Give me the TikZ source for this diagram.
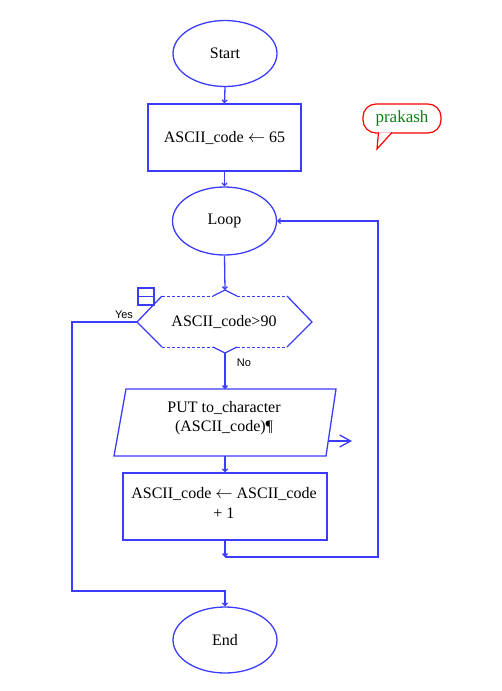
\documentclass[tikz,border=0pt]{standalone}
\usepackage{fontspec}
\setmainfont{Liberation Serif}
\newfontfamily\labelfont{Liberation Sans}
\usetikzlibrary{arrows.meta,shapes.geometric,calc}
\definecolor{fblue}{RGB}{60,60,255}
\definecolor{fgreen}{RGB}{10,128,20}
\begin{document}
\begin{tikzpicture}[x=1pt,y=-1pt,
  line/.style={draw=fblue, line width=1.3pt},
  tip/.style={-{Straight Barb[length=2.5pt,width=5pt]}},
  bigtip/.style={-{Straight Barb[length=11pt,width=12pt]}},
  term/.style={ellipse, draw=fblue, line width=1.3pt, minimum width=104pt, minimum height=66pt, font=\fontsize{16}{18}\selectfont, inner sep=0pt},
  box/.style={rectangle, draw=fblue, line width=1.3pt, font=\fontsize{16}{18}\selectfont, inner sep=0pt},
  txt/.style={font=\fontsize{16}{18.5}\selectfont, align=center, inner sep=0pt},
  lbl/.style={font=\labelfont\fontsize{11}{13}\selectfont, inner sep=0pt},
  dashedge/.style={draw=fblue, line width=1pt, dash pattern=on 3pt off 2pt}]
\useasboundingbox (0,0) rectangle (501,691);

% terminals and boxes
\node[term] (start) at (225,53.5) {Start};
\node[box, minimum width=153pt, minimum height=67pt] (r1) at (224.5,137.5) {ASCII\_code $\leftarrow$ 65};
\node[term, minimum height=68pt] (loop) at (224.5,221) {Loop};

% decision hexagon
\coordinate (dL) at (137,322);
\coordinate (dTL) at (162,296);
\coordinate (dTR) at (287,296);
\coordinate (dR) at (312,322);
\coordinate (dBR) at (287,347);
\coordinate (dBL) at (162,347);
\coordinate (dT) at (225,290);
\coordinate (dB) at (225,353);
\coordinate (dT1) at (213,296);
\coordinate (dT2) at (237,296);
\coordinate (dB1) at (213,347);
\coordinate (dB2) at (237,347);
\draw[line] (dTL) -- (dL) -- (dBL);
\draw[line] (dTR) -- (dR) -- (dBR);
\draw[dashedge] (dTL) -- (dT1) (dT2) -- (dTR) (dBL) -- (dB1) (dB2) -- (dBR);
\draw[line] (dT1) -- (dT) -- (dT2);
\draw[line] (dB1) -- (dB) -- (dB2);
\node[txt] (dec) at (224,322) {ASCII\_code>90};
\draw[line] (138,288) rectangle (154,305);
\draw[line] (138,296.5) -- (154,296.5);
\node[lbl] (yes) at (124,315) {Yes};
\node[lbl] (no) at (244,363) {No};

% parallelogram
\coordinate (pTL) at (126,389);
\coordinate (pTR) at (336,389);
\coordinate (pBR) at (326,456);
\coordinate (pBL) at (114,456);
\coordinate (pT) at (225,389);
\coordinate (pB) at (225,456);
\coordinate (pR) at (328.2,441);
\coordinate (pOut) at (352,441);
\draw[line] (pTL) -- (pTR) -- (pBR) -- (pBL) -- cycle;
\node[txt] (put) at (224,418) {PUT to\_character\\(ASCII\_code)¶};

% increment box
\node[box, minimum width=204pt, minimum height=67pt] (r2) at (225,506.5) {};
\node[txt, font=\fontsize{16}{20}\selectfont] (r2t) at (224,503) {ASCII\_code $\leftarrow$ ASCII\_code\\+ 1};

\node[term] (end) at (225,640) {End};

% connectors
\coordinate (j) at (225,557);
\coordinate (rc) at (378,557);
\coordinate (yl) at (72,322);
\coordinate (yb) at (72,591);
\draw[line,tip] (start.south) -- (r1.north);
\draw[line,tip] (r1.south) -- (loop.north);
\draw[line,tip] (loop.south) -- (dT);
\draw[line,tip] (dB) -- (pT);
\draw[line,tip] (pB) -- (r2.north);
\draw[line,tip] (r2.south) -- (j);
\draw[line,tip] (j) -- (rc) |- (loop.east);
\draw[line,tip] (dL) -- (yl) -- (yb) -| (end.north);
\draw[line,bigtip] (pR) -- (pOut);

% speech bubble
\node[draw=red, line width=1.2pt, rounded corners=13pt, minimum width=78pt, minimum height=29pt, fill=white, text=fgreen, font=\fontsize{17}{18}\selectfont, inner sep=0pt] (bubble) at (402,118.5) {prakash};
\filldraw[draw=red, fill=white, line width=1.2pt] (378.5,132.4) -- (377,149) -- (392,132.4);
\end{tikzpicture}
\end{document}
